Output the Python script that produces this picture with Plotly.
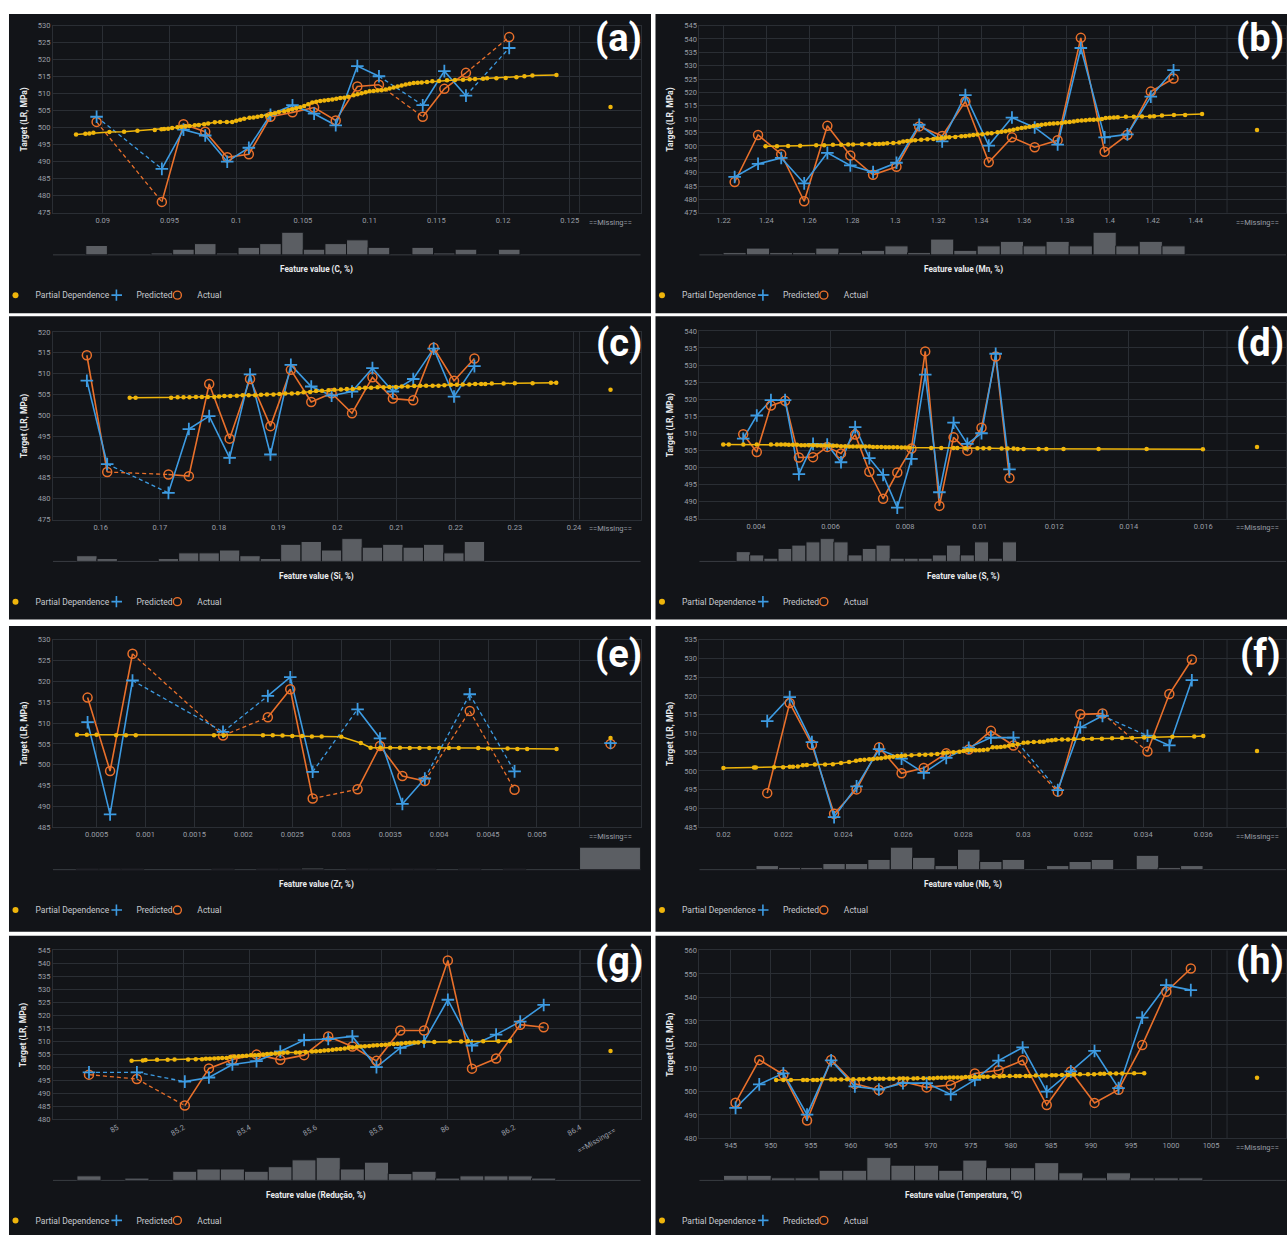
import plotly.graph_objects as go

W, H = 1287, 1239
FONT = "Roboto, 'Open Sans', sans-serif"

# ======================= DATA =======================
Y_TITLE = "Target (LR, MPa)"
MISSING_LABEL = "==Missing=="
LEGEND_NAMES = ["Partial Dependence", "Predicted", "Actual"]
PANEL_LABELS = ["(a)", "(b)", "(c)", "(d)", "(e)", "(f)", "(g)", "(h)"]

# ---- (a) C ----
A_TITLE = "Feature value (C, %)"
A_XTICKS = [0.09, 0.095, 0.1, 0.105, 0.11, 0.115, 0.12, 0.125]
A_XTICKTEXT = ["0.09", "0.095", "0.1", "0.105", "0.11", "0.115", "0.12", "0.125"]
A_YTICKS = [475, 480, 485, 490, 495, 500, 505, 510, 515, 520, 525, 530]
A_BIN_X = [0.08954, 0.09443, 0.09605, 0.09768, 0.09933, 0.10095, 0.10257, 0.10422,
           0.10584, 0.10746, 0.10908, 0.11070, 0.11398, 0.11560, 0.11722, 0.12046]
A_PRED = [503.2, 487.9, 499.4, 497.7, 490.0, 494.1, 503.8, 506.6, 504.1, 500.7, 518.1, 515.1, 506.6, 516.6, 509.4, 523.4]
A_ACT = [501.7, 478.2, 501.0, 498.8, 491.3, 492.2, 503.2, 504.5, 505.9, 502.1, 512.1, 512.6, 503.2, 511.4, 516.1, 526.6]
A_COUNT = [5, 1, 3, 6, 1, 4, 6, 12, 3, 6, 8, 4, 4, 1, 3, 3]
A_PD_X = [0.0880, 0.0887, 0.0890, 0.0893, 0.0905, 0.0916, 0.0926, 0.0939, 0.0944, 0.0946,
          0.0949, 0.0952, 0.0956, 0.0959, 0.0962, 0.0965, 0.0969, 0.0972, 0.0976, 0.0979,
          0.0984, 0.0988, 0.0993, 0.0997, 0.1000, 0.1003, 0.1006, 0.1010, 0.1013, 0.1016,
          0.1019, 0.1023, 0.1026, 0.1029, 0.1032, 0.1036, 0.1039, 0.1042, 0.1045, 0.1048,
          0.1051, 0.1054, 0.1057, 0.1060, 0.1063, 0.1066, 0.1069, 0.1072, 0.1075, 0.1078,
          0.1081, 0.1084, 0.1088, 0.1091, 0.1094, 0.1097, 0.1100, 0.1103, 0.1106, 0.1109,
          0.1112, 0.1115, 0.1118, 0.1121, 0.1124, 0.1127, 0.1130, 0.1133, 0.1136, 0.1139,
          0.1143, 0.1147, 0.1152, 0.1158, 0.1164, 0.1170, 0.1175, 0.1179, 0.1185, 0.1188,
          0.1195, 0.1202, 0.1210, 0.1216, 0.1222, 0.1240]
A_PD_Y = [498.0, 498.2, 498.3, 498.5, 498.7, 498.8, 499.1, 499.3, 499.5, 499.6,
          499.7, 499.9, 500.1, 500.3, 500.4, 500.5, 500.7, 500.8, 501.0, 501.2,
          501.6, 501.7, 501.7, 501.7, 502.0, 502.3, 502.6, 502.9, 503.0, 503.2,
          503.4, 503.6, 504.0, 504.2, 504.6, 504.8, 505.1, 505.4, 505.7, 506.0,
          506.4, 506.9, 507.4, 507.6, 507.8, 508.0, 508.1, 508.3, 508.5, 508.7,
          508.8, 509.1, 509.5, 509.8, 510.1, 510.4, 510.7, 510.8, 510.9, 511.0,
          511.2, 511.5, 511.8, 512.1, 512.4, 512.7, 512.9, 513.1, 513.2, 513.3,
          513.4, 513.6, 513.7, 513.9, 514.0, 514.1, 514.2, 514.3, 514.4, 514.5,
          514.5, 514.6, 514.8, 515.1, 515.3, 515.5]
A_PD_MISSING = 506.1

# ---- (b) Mn ----
B_TITLE = "Feature value (Mn, %)"
B_XTICKS = [1.22, 1.24, 1.26, 1.28, 1.30, 1.32, 1.34, 1.36, 1.38, 1.40, 1.42, 1.44]
B_XTICKTEXT = ["1.22", "1.24", "1.26", "1.28", "1.3", "1.32", "1.34", "1.36", "1.38", "1.4", "1.42", "1.44"]
B_YTICKS = [475, 480, 485, 490, 495, 500, 505, 510, 515, 520, 525, 530, 535, 540, 545]
B_BIN_X = [1.2252, 1.2361, 1.2469, 1.2576, 1.2684, 1.2791, 1.2897, 1.3006, 1.3112, 1.3219,
           1.3327, 1.3436, 1.3544, 1.3650, 1.3757, 1.3865, 1.3976, 1.4082, 1.4191, 1.4297]
B_PRED = [488.4, 493.3, 495.5, 486.0, 497.4, 492.7, 490.2, 493.7, 507.9, 501.7,
          519.0, 500.1, 510.6, 506.9, 500.5, 536.6, 503.2, 504.3, 518.4, 528.3]
B_ACT = [486.5, 504.1, 496.9, 479.3, 507.5, 496.4, 489.2, 492.2, 507.3, 503.7,
         516.6, 493.9, 503.2, 499.5, 502.1, 540.4, 497.8, 504.2, 520.3, 525.2]
B_COUNT = [1, 3, 1, 1, 3, 1, 2, 4, 1, 7, 2, 4, 6, 4, 6, 4, 10, 4, 6, 4]
B_PD_X = [1.2396, 1.2449, 1.2501, 1.2557, 1.2632, 1.2669, 1.2710, 1.2748, 1.2781, 1.2804,
          1.2845, 1.2879, 1.2907, 1.2925, 1.2944, 1.2963, 1.2991, 1.3019, 1.3037, 1.3056,
          1.3075, 1.3093, 1.3121, 1.3150, 1.3178, 1.3196, 1.3215, 1.3234, 1.3252, 1.3280,
          1.3308, 1.3327, 1.3346, 1.3364, 1.3383, 1.3406, 1.3430, 1.3449, 1.3477, 1.3495,
          1.3514, 1.3533, 1.3551, 1.3570, 1.3589, 1.3607, 1.3626, 1.3645, 1.3664, 1.3682,
          1.3701, 1.3720, 1.3738, 1.3757, 1.3776, 1.3794, 1.3813, 1.3832, 1.3850, 1.3869,
          1.3888, 1.3907, 1.3925, 1.3944, 1.3963, 1.3981, 1.4000, 1.4019, 1.4037, 1.4075,
          1.4112, 1.4150, 1.4187, 1.4206, 1.4243, 1.4299, 1.4351, 1.4430]
B_PD_Y = [499.9, 499.9, 500.0, 500.1, 500.2, 500.2, 500.4, 500.4, 500.5, 500.5,
          500.6, 500.6, 500.7, 500.7, 500.8, 501.0, 501.1, 501.3, 501.6, 501.8,
          502.0, 502.1, 502.3, 502.5, 502.6, 502.8, 503.0, 503.1, 503.2, 503.3,
          503.6, 503.7, 503.9, 504.1, 504.3, 504.4, 504.6, 504.7, 505.1, 505.3,
          505.5, 505.8, 506.0, 506.4, 506.7, 506.9, 507.2, 507.4, 507.7, 507.9,
          508.1, 508.3, 508.4, 508.5, 508.6, 508.8, 508.9, 509.1, 509.4, 509.5,
          509.6, 509.8, 509.8, 509.9, 510.1, 510.4, 510.5, 510.6, 510.7, 510.9,
          510.9, 511.0, 511.0, 511.1, 511.4, 511.6, 511.6, 511.9]
B_PD_MISSING = 505.9

# ---- (c) Si ----
C_TITLE = "Feature value (Si, %)"
C_XTICKS = [0.16, 0.17, 0.18, 0.19, 0.20, 0.21, 0.22, 0.23, 0.24]
C_XTICKTEXT = ["0.16", "0.17", "0.18", "0.19", "0.2", "0.21", "0.22", "0.23", "0.24"]
C_YTICKS = [475, 480, 485, 490, 495, 500, 505, 510, 515, 520]
C_BIN_X = [0.15766, 0.16110, 0.17145, 0.17490, 0.17834, 0.18179, 0.18524, 0.18869, 0.19214,
           0.19559, 0.19903, 0.20248, 0.20593, 0.20938, 0.21283, 0.21628, 0.21972, 0.22317]
C_PRED = [508.3, 488.3, 481.4, 496.7, 499.8, 489.8, 509.8, 490.6, 512.1,
          506.9, 504.7, 505.7, 511.3, 505.7, 508.7, 516.0, 504.5, 511.8]
C_ACT = [514.4, 486.4, 485.8, 485.4, 507.5, 494.4, 508.7, 497.4, 510.9,
         503.2, 505.3, 500.5, 509.1, 504.0, 503.6, 516.2, 508.3, 513.6]
C_COUNT = [2, 1, 1, 3, 3, 4, 2, 1, 6, 7, 4, 8, 5, 6, 5, 6, 3, 7]
C_PD_X = [0.1649, 0.1659, 0.1719, 0.1730, 0.1740, 0.1750, 0.1761, 0.1771, 0.1781, 0.1792,
          0.1800, 0.1809, 0.1819, 0.1830, 0.1840, 0.1850, 0.1861, 0.1871, 0.1881, 0.1892,
          0.1902, 0.1912, 0.1923, 0.1933, 0.1943, 0.1954, 0.1964, 0.1974, 0.1985, 0.1995,
          0.2006, 0.2016, 0.2026, 0.2037, 0.2047, 0.2057, 0.2068, 0.2078, 0.2088, 0.2099,
          0.2109, 0.2119, 0.2130, 0.2140, 0.2150, 0.2161, 0.2171, 0.2181, 0.2192, 0.2202,
          0.2212, 0.2223, 0.2233, 0.2243, 0.2250, 0.2261, 0.2281, 0.2300, 0.2330, 0.2361, 0.2370]
C_PD_Y = [504.2, 504.2, 504.2, 504.3, 504.3, 504.3, 504.4, 504.4, 504.4, 504.4,
          504.5, 504.6, 504.6, 504.7, 504.8, 504.8, 504.8, 504.9, 505.0, 505.0,
          505.1, 505.2, 505.2, 505.3, 505.5, 505.6, 505.8, 505.9, 506.0, 506.1,
          506.2, 506.3, 506.3, 506.5, 506.6, 506.6, 506.7, 506.7, 506.8, 506.8,
          506.9, 506.9, 507.0, 507.1, 507.1, 507.1, 507.1, 507.2, 507.3, 507.3,
          507.4, 507.4, 507.5, 507.5, 507.5, 507.6, 507.6, 507.7, 507.7, 507.8, 507.8]
C_PD_MISSING = 506.1

# ---- (d) S ----
D_TITLE = "Feature value (S, %)"
D_XTICKS = [0.004, 0.006, 0.008, 0.010, 0.012, 0.014, 0.016]
D_XTICKTEXT = ["0.004", "0.006", "0.008", "0.01", "0.012", "0.014", "0.016"]
D_YTICKS = [485, 490, 495, 500, 505, 510, 515, 520, 525, 530, 535, 540]
D_BIN_X = [0.003656, 0.00402, 0.00440, 0.00478, 0.00515, 0.00553, 0.00591, 0.00628, 0.00666, 0.00704,
           0.00741, 0.00779, 0.00817, 0.00854, 0.00892, 0.00930, 0.00967, 0.01005, 0.01043, 0.01080]
D_PRED = [508.4, 515.2, 519.7, 519.7, 498.0, 506.9, 506.7, 501.5, 511.8, 502.7,
          497.8, 488.2, 502.5, 527.2, 492.7, 513.1, 506.9, 510.0, 533.3, 499.4]
D_ACT = [509.7, 504.5, 518.1, 519.5, 502.9, 503.0, 506.0, 504.1, 509.6, 498.7,
         490.8, 498.5, 505.5, 534.0, 488.7, 508.8, 504.9, 511.6, 532.5, 496.9]
D_COUNT = [3, 2, 1, 4, 5, 6, 7, 6, 2, 4, 5, 1, 1, 1, 2, 5, 2, 6, 1, 6]
D_PD_X = [0.00312, 0.00327, 0.00366, 0.00402, 0.00440, 0.00456, 0.00467, 0.00478, 0.00488, 0.00499,
          0.00510, 0.00521, 0.00531, 0.00542, 0.00553, 0.00564, 0.00574, 0.00585, 0.00596, 0.00607,
          0.00617, 0.00628, 0.00639, 0.00650, 0.00660, 0.00671, 0.00682, 0.00693, 0.00704, 0.00714,
          0.00725, 0.00736, 0.00747, 0.00757, 0.00768, 0.00779, 0.00790, 0.00800, 0.00811, 0.00870,
          0.00897, 0.00930, 0.00940, 0.00962, 0.00994, 0.01010, 0.01026, 0.01059, 0.01075, 0.01091,
          0.01102, 0.01118, 0.01158, 0.01179, 0.01225, 0.01319, 0.01448, 0.01599]
D_PD_Y = [506.7, 506.7, 506.7, 506.7, 506.7, 506.7, 506.7, 506.7, 506.6, 506.6,
          506.6, 506.5, 506.5, 506.5, 506.5, 506.4, 506.4, 506.4, 506.4, 506.3,
          506.3, 506.2, 506.2, 506.1, 506.1, 506.1, 506.1, 506.1, 506.1, 506.0,
          506.0, 506.0, 505.9, 505.9, 505.9, 505.9, 505.8, 505.8, 505.8, 505.7,
          505.7, 505.7, 505.7, 505.6, 505.6, 505.6, 505.6, 505.5, 505.5, 505.5,
          505.4, 505.4, 505.4, 505.4, 505.4, 505.4, 505.4, 505.3]
D_PD_MISSING = 506.0

# ---- (e) Zr ----
E_TITLE = "Feature value (Zr, %)"
E_XTICKS = [0.0005, 0.001, 0.0015, 0.002, 0.0025, 0.003, 0.0035, 0.004, 0.0045, 0.005]
E_XTICKTEXT = ["0.0005", "0.001", "0.0015", "0.002", "0.0025", "0.003", "0.0035", "0.004", "0.0045", "0.005"]
E_YTICKS = [485, 490, 495, 500, 505, 510, 515, 520, 525, 530]
E_BIN_X = [0.000408, 0.000638, 0.000867, 0.001792, 0.002250, 0.002479, 0.002708,
           0.003167, 0.003396, 0.003625, 0.003854, 0.004313, 0.004771]
E_PRED = [510.2, 488.1, 520.2, 507.9, 516.5, 521.0, 498.3, 513.3, 506.3, 490.6, 496.7, 516.9, 498.4]
E_ACT = [516.1, 498.5, 526.6, 507.0, 511.4, 518.1, 491.9, 494.1, 504.5, 497.3, 496.1, 512.9, 494.0]
E_COUNT = [1, 1, 1, 1, 1, 1, 2, 1, 1, 1, 1, 1, 1]
E_PD_X = [0.0003, 0.0004, 0.0005, 0.0007, 0.0008, 0.0009, 0.0017, 0.0018, 0.0022, 0.0023,
          0.0024, 0.0025, 0.0026, 0.0027, 0.0028, 0.0030, 0.0032, 0.0033, 0.0034, 0.0035,
          0.0036, 0.0037, 0.0038, 0.0039, 0.0040, 0.0041, 0.0042, 0.0044, 0.0045, 0.0047,
          0.0048, 0.0049, 0.0052]
E_PD_Y = [507.2, 507.2, 507.2, 507.1, 507.1, 507.1, 507.1, 507.1, 507.1, 507.1,
          507.0, 506.9, 506.9, 506.8, 506.8, 506.7, 505.2, 504.1, 504.1, 504.1,
          504.1, 504.0, 504.0, 504.0, 504.0, 504.0, 504.0, 504.0, 503.9, 503.9,
          503.8, 503.8, 503.8]
E_PD_MISSING = 506.4
E_PRED_MISSING = 505.2
E_ACT_MISSING = 505.0
E_COUNT_MISSING = 28

# ---- (f) Nb ----
F_TITLE = "Feature value (Nb, %)"
F_XTICKS = [0.020, 0.022, 0.024, 0.026, 0.028, 0.030, 0.032, 0.034, 0.036]
F_XTICKTEXT = ["0.02", "0.022", "0.024", "0.026", "0.028", "0.03", "0.032", "0.034", "0.036"]
F_YTICKS = [485, 490, 495, 500, 505, 510, 515, 520, 525, 530, 535]
F_BIN_X = [0.02146, 0.02221, 0.02295, 0.02369, 0.02444, 0.02519, 0.02594, 0.02668, 0.02743,
           0.02818, 0.02892, 0.02967, 0.03115, 0.03190, 0.03264, 0.03414, 0.03487, 0.03562]
F_PRED = [513.3, 519.7, 507.7, 487.7, 495.9, 505.8, 503.3, 499.5, 503.5,
          506.2, 508.9, 508.9, 494.9, 511.6, 514.7, 509.4, 506.8, 524.2]
F_ACT = [494.1, 518.1, 507.0, 488.6, 495.1, 506.3, 499.4, 500.8, 504.7,
         505.7, 510.7, 506.8, 494.5, 515.1, 515.3, 505.2, 520.5, 529.7]
F_COUNT = [2, 1, 1, 3, 3, 5, 11, 6, 2, 10, 4, 5, 2, 4, 5, 7, 1, 2]
F_PD_X = [0.02000, 0.02102, 0.02108, 0.02169, 0.02199, 0.02221, 0.02232, 0.02248, 0.02265, 0.02278,
          0.02305, 0.02339, 0.02365, 0.02392, 0.02419, 0.02442, 0.02456, 0.02470, 0.02486, 0.02499,
          0.02513, 0.02526, 0.02540, 0.02553, 0.02566, 0.02580, 0.02593, 0.02606, 0.02627, 0.02653,
          0.02673, 0.02693, 0.02713, 0.02734, 0.02747, 0.02767, 0.02787, 0.02801, 0.02814, 0.02827,
          0.02841, 0.02854, 0.02867, 0.02881, 0.02898, 0.02912, 0.02925, 0.02938, 0.02952, 0.02965,
          0.02981, 0.03001, 0.03015, 0.03035, 0.03055, 0.03068, 0.03082, 0.03095, 0.03108, 0.03129,
          0.03149, 0.03169, 0.03200, 0.03229, 0.03262, 0.03296, 0.03329, 0.03363, 0.03403, 0.03436,
          0.03497, 0.03570, 0.03600]
F_PD_Y = [500.8, 500.9, 500.9, 501.0, 501.0, 501.1, 501.1, 501.2, 501.5, 501.6,
          501.7, 501.7, 501.8, 502.1, 502.4, 502.7, 502.9, 503.0, 503.1, 503.2,
          503.3, 503.4, 503.6, 503.7, 503.8, 504.0, 504.0, 504.1, 504.2, 504.3,
          504.3, 504.4, 504.5, 504.8, 504.9, 505.0, 505.1, 505.3, 505.5, 505.5,
          505.5, 505.5, 505.6, 505.7, 506.3, 506.3, 506.4, 506.5, 506.7, 506.9,
          507.1, 507.5, 507.6, 507.7, 507.8, 507.8, 508.1, 508.2, 508.3, 508.4,
          508.4, 508.5, 508.5, 508.6, 508.6, 508.7, 508.8, 508.8, 508.9, 509.0,
          509.1, 509.2, 509.3]
F_PD_MISSING = 505.3

# ---- (g) Reducao ----
G_TITLE = "Feature value (Redução, %)"
G_XTICKS = [85.0, 85.2, 85.4, 85.6, 85.8, 86.0, 86.2, 86.4]
G_XTICKTEXT = ["85", "85.2", "85.4", "85.6", "85.8", "86", "86.2", "86.4"]
G_YTICKS = [480, 485, 490, 495, 500, 505, 510, 515, 520, 525, 530, 535, 540, 545]
G_BIN_X = [84.914, 85.059, 85.204, 85.277, 85.348, 85.421, 85.493, 85.565, 85.638,
           85.711, 85.784, 85.856, 85.928, 86.000, 86.073, 86.146, 86.219, 86.290]
G_PRED = [498.1, 498.1, 494.5, 496.1, 501.1, 502.4, 506.1, 510.5, 510.9,
          511.9, 500.1, 507.5, 510.0, 526.0, 508.4, 512.6, 517.6, 524.0]
G_ACT = [497.2, 495.5, 485.3, 499.6, 503.0, 504.9, 502.9, 504.7, 511.9,
         508.0, 502.5, 514.2, 514.2, 541.1, 499.5, 503.4, 516.4, 515.4]
G_COUNT = [2, 1, 4, 5, 5, 4, 6, 9, 10, 5, 8, 3, 4, 1, 2, 2, 2, 1]
G_PD_X = [85.043, 85.077, 85.085, 85.120, 85.152, 85.173, 85.214, 85.237, 85.256, 85.268,
          85.280, 85.293, 85.305, 85.317, 85.330, 85.342, 85.354, 85.367, 85.379, 85.391,
          85.404, 85.416, 85.428, 85.441, 85.453, 85.465, 85.478, 85.490, 85.502, 85.515,
          85.540, 85.552, 85.570, 85.589, 85.601, 85.614, 85.626, 85.638, 85.651, 85.663,
          85.675, 85.688, 85.700, 85.712, 85.725, 85.737, 85.749, 85.762, 85.774, 85.786,
          85.799, 85.811, 85.823, 85.836, 85.848, 85.860, 85.873, 85.885, 85.898, 85.910,
          85.928, 85.959, 86.006, 86.040, 86.060, 86.107, 86.153, 86.188]
G_PD_Y = [502.5, 502.6, 502.8, 502.9, 502.9, 503.0, 503.0, 503.1, 503.1, 503.3,
          503.3, 503.4, 503.5, 503.6, 503.6, 504.0, 504.2, 504.3, 504.4, 504.5,
          504.7, 504.7, 504.8, 504.9, 505.1, 505.2, 505.3, 505.4, 505.6, 505.7,
          505.7, 505.7, 505.9, 506.1, 506.2, 506.3, 506.5, 506.6, 506.8, 507.0,
          507.1, 507.3, 507.5, 507.6, 507.9, 508.0, 508.1, 508.2, 508.4, 508.5,
          508.6, 508.7, 508.9, 509.0, 509.1, 509.2, 509.4, 509.5, 509.6, 509.6,
          509.8, 509.8, 509.9, 509.9, 510.0, 510.0, 510.0, 510.1]
G_PD_MISSING = 506.3

# ---- (h) Temperatura ----
H_TITLE = "Feature value (Temperatura, °C)"
H_XTICKS = [945, 950, 955, 960, 965, 970, 975, 980, 985, 990, 995, 1000, 1005]
H_XTICKTEXT = ["945", "950", "955", "960", "965", "970", "975", "980", "985", "990", "995", "1000", "1005"]
H_YTICKS = [480, 490, 500, 510, 520, 530, 540, 550, 560]
H_BIN_X = [945.60, 948.56, 951.57, 954.53, 957.54, 960.50, 963.50, 966.51, 969.47, 972.48,
           975.49, 978.45, 981.46, 984.47, 987.48, 990.44, 993.44, 996.40, 999.41, 1002.47]
H_PRED = [493.0, 503.0, 507.7, 490.1, 513.2, 502.1, 500.8, 503.5, 503.5, 498.7,
          504.9, 513.1, 518.7, 499.9, 508.5, 517.2, 501.4, 531.4, 545.2, 543.1]
H_ACT = [495.2, 513.4, 507.2, 487.6, 513.4, 503.2, 500.6, 504.1, 501.7, 502.7,
         507.6, 509.0, 513.2, 494.2, 508.5, 495.1, 500.7, 519.7, 542.4, 552.3]
H_COUNT = [2, 2, 1, 1, 4, 4, 9, 6, 6, 4, 8, 5, 5, 7, 3, 1, 3, 1, 1, 1]
H_PD_X = [950.67, 951.57, 952.52, 954.03, 954.53, 955.28, 955.78, 956.38, 957.54, 958.04,
          958.79, 959.54, 960.30, 961.05, 961.55, 962.30, 963.05, 963.56, 964.06, 964.81,
          965.31, 966.06, 966.56, 967.07, 967.82, 968.32, 969.07, 969.82, 970.33, 970.83,
          971.33, 971.83, 972.33, 972.83, 973.34, 973.84, 974.34, 974.84, 975.49, 976.09,
          976.59, 977.10, 977.85, 978.60, 979.10, 979.85, 980.61, 981.11, 981.86, 982.36,
          983.11, 983.87, 984.37, 985.12, 985.62, 986.37, 987.13, 987.88, 988.63, 989.63,
          990.39, 991.14, 991.64, 992.39, 993.14, 993.90, 995.40, 996.65]
H_PD_Y = [504.9, 504.9, 504.9, 504.9, 504.9, 504.9, 504.9, 505.1, 505.1, 505.1,
          505.1, 505.2, 505.2, 505.2, 505.2, 505.4, 505.4, 505.4, 505.4, 505.4,
          505.4, 505.5, 505.5, 505.5, 505.5, 505.6, 505.6, 505.6, 505.6, 505.8,
          505.8, 505.8, 505.9, 505.9, 505.9, 505.9, 506.1, 506.1, 506.1, 506.2,
          506.2, 506.2, 506.3, 506.3, 506.5, 506.5, 506.5, 506.5, 506.6, 506.6,
          506.8, 506.8, 506.8, 506.9, 506.9, 507.0, 507.0, 507.2, 507.3, 507.3,
          507.3, 507.5, 507.5, 507.6, 507.6, 507.6, 507.7, 507.7]
H_PD_MISSING = 505.8

PANELS = [
    dict(title=A_TITLE, xt=A_XTICKS, xtt=A_XTICKTEXT, yt=A_YTICKS, bx=A_BIN_X, pred=A_PRED, act=A_ACT,
         cnt=A_COUNT, pdx=A_PD_X, pdy=A_PD_Y, pdm=A_PD_MISSING, predm=None, actm=None, cntm=0),
    dict(title=B_TITLE, xt=B_XTICKS, xtt=B_XTICKTEXT, yt=B_YTICKS, bx=B_BIN_X, pred=B_PRED, act=B_ACT,
         cnt=B_COUNT, pdx=B_PD_X, pdy=B_PD_Y, pdm=B_PD_MISSING, predm=None, actm=None, cntm=0),
    dict(title=C_TITLE, xt=C_XTICKS, xtt=C_XTICKTEXT, yt=C_YTICKS, bx=C_BIN_X, pred=C_PRED, act=C_ACT,
         cnt=C_COUNT, pdx=C_PD_X, pdy=C_PD_Y, pdm=C_PD_MISSING, predm=None, actm=None, cntm=0),
    dict(title=D_TITLE, xt=D_XTICKS, xtt=D_XTICKTEXT, yt=D_YTICKS, bx=D_BIN_X, pred=D_PRED, act=D_ACT,
         cnt=D_COUNT, pdx=D_PD_X, pdy=D_PD_Y, pdm=D_PD_MISSING, predm=None, actm=None, cntm=0),
    dict(title=E_TITLE, xt=E_XTICKS, xtt=E_XTICKTEXT, yt=E_YTICKS, bx=E_BIN_X, pred=E_PRED, act=E_ACT,
         cnt=E_COUNT, pdx=E_PD_X, pdy=E_PD_Y, pdm=E_PD_MISSING, predm=E_PRED_MISSING,
         actm=E_ACT_MISSING, cntm=E_COUNT_MISSING),
    dict(title=F_TITLE, xt=F_XTICKS, xtt=F_XTICKTEXT, yt=F_YTICKS, bx=F_BIN_X, pred=F_PRED, act=F_ACT,
         cnt=F_COUNT, pdx=F_PD_X, pdy=F_PD_Y, pdm=F_PD_MISSING, predm=None, actm=None, cntm=0),
    dict(title=G_TITLE, xt=G_XTICKS, xtt=G_XTICKTEXT, yt=G_YTICKS, bx=G_BIN_X, pred=G_PRED, act=G_ACT,
         cnt=G_COUNT, pdx=G_PD_X, pdy=G_PD_Y, pdm=G_PD_MISSING, predm=None, actm=None, cntm=0),
    dict(title=H_TITLE, xt=H_XTICKS, xtt=H_XTICKTEXT, yt=H_YTICKS, bx=H_BIN_X, pred=H_PRED, act=H_ACT,
         cnt=H_COUNT, pdx=H_PD_X, pdy=H_PD_Y, pdm=H_PD_MISSING, predm=None, actm=None, cntm=0),
]

# ======================= STYLE / GEOMETRY (pixels) =======================
BG = "#121418"
GRID = "#2a2e34"
TICK = "#9a9fa7"
TITLE_C = "#e8eaed"
LEG_C = "#c6c9ce"
PD_C = "#efb50b"
PRED_C = "#3d9be2"
ACT_C = "#e9702b"
HIST_C = "#5b5e63"
BASE_C = "#3a3d43"

COLS = [
    dict(px=(53, 641), sep=580, miss=611, bg=(9, 651.5), ref=10, ytx=24.3, lbx=619, xtx=316.5, rmx=597),
    dict(px=(700, 1287), sep=1228, miss=1258, bg=(656, 1290), ref=657, ytx=671, lbx=1261, xtx=964, rmx=1244),
]
ROWS = [
    dict(py=[(21.7, 210.3), (21.7, 210.3)], hy=(230, 252.7), xty=267.7, lgy=293.3, lby=34.5, bg=(10, 311.5)),
    dict(py=[(330.3, 519.3), (329.3, 518.3)], hy=(538.5, 561.5), xty=576.5, lgy=602, lby=341, bg=(314.5, 620)),
    dict(py=[(640.3, 829.3), (640.3, 829.3)], hy=(849.3, 872), xty=887, lgy=912.7, lby=655, bg=(626.5, 934.5)),
    dict(py=[(953.3, 1123.5), (953.3, 1142.7)], hy=(1162, 1185), xty=1200.3, lgy=1225.3, lby=964, bg=(938.5, 1240)),
]
XRANGES = [(0.08627, 0.1303), (1.2088, 1.4821), (0.15193, 0.25124), (0.002482, 0.01822),
           (0.0000542, 0.006058), (0.0192, 0.03876), (84.805, 86.583), (941.09, 1014.36)]
TICKANGLES = [0, 0, 0, 0, 0, 0, -30, 0]
LEG_TXT_REL = [21, 119, 180]


def axn(kind, n):
    return kind if n == 1 else f"{kind}{n}"


def px2x(p):
    return p / W


def py2y(p):
    return 1 - p / H


fig = go.Figure()
layout = {}
shapes, annotations = [], []
leg_idx = 0
tickfont = dict(size=7.5, color=TICK, family=FONT)

for i, p in enumerate(PANELS):
    col = COLS[i % 2]
    row = ROWS[i // 2]
    px0, px1 = col["px"]
    py0, py1 = row["py"][i % 2]
    hy0, hy1 = row["hy"]
    xr = XRANGES[i]

    def to_val(pix, px0=px0, px1=px1, xr=xr):
        return xr[0] + (pix - px0) / (px1 - px0) * (xr[1] - xr[0])

    sep = to_val(col["sep"])
    miss = to_val(col["miss"])

    xm, xh = 2 * i + 1, 2 * i + 2
    ym, yh = 2 * i + 1, 2 * i + 2
    XM, XH = axn("x", xm), axn("x", xh)
    YM, YH = axn("y", ym), axn("y", yh)

    layout[axn("xaxis", xm)] = dict(
        domain=[px2x(px0), px2x(px1)], anchor=YM, range=list(xr), tickvals=p["xt"], ticktext=p["xtt"],
        showgrid=True, gridcolor=GRID, gridwidth=1, zeroline=False, showline=True, mirror=True,
        linecolor=GRID, linewidth=1, ticks="", tickfont=tickfont, tickangle=TICKANGLES[i], fixedrange=True)
    layout[axn("yaxis", ym)] = dict(
        domain=[py2y(py1), py2y(py0)], anchor=XM, range=[min(p["yt"]), max(p["yt"])], tickvals=p["yt"],
        showgrid=True, gridcolor=GRID, gridwidth=1, zeroline=False, showline=True, mirror=True,
        linecolor=GRID, linewidth=1, ticks="", tickfont=tickfont, fixedrange=True)
    maxc = max(max(p["cnt"]), p["cntm"])
    layout[axn("xaxis", xh)] = dict(domain=[px2x(px0), px2x(px1)], anchor=YH, range=list(xr),
                                     visible=False, fixedrange=True)
    layout[axn("yaxis", yh)] = dict(domain=[py2y(hy1), py2y(hy0)], anchor=XH, range=[0, maxc],
                                     visible=False, fixedrange=True)

    diffs = [b - a for a, b in zip(p["bx"][:-1], p["bx"][1:])]
    dmin = min(diffs)
    small = sorted(d for d in diffs if d < 1.5 * dmin)
    bw = small[len(small) // 2]

    # ---- histogram ----
    hx = list(p["bx"])
    hyv = list(p["cnt"])
    wid = [bw] * len(hx)
    if p["cntm"]:
        hx.append((sep + xr[1]) / 2)
        hyv.append(p["cntm"])
        wid.append(xr[1] - sep)
    fig.add_trace(go.Bar(x=hx, y=hyv, width=wid, xaxis=XH, yaxis=YH, showlegend=False, hoverinfo="skip",
                         marker=dict(color=HIST_C, line=dict(color=BG, width=1))))

    # ---- predicted / actual lines ----
    def add_lines(ys, color):
        xs = p["bx"]
        run = [0]
        for k in range(1, len(xs)):
            if xs[k] - xs[k - 1] > 1.5 * bw:
                if len(run) > 1:
                    fig.add_trace(go.Scatter(x=[xs[j] for j in run], y=[ys[j] for j in run], mode="lines",
                                             line=dict(color=color, width=1.6), xaxis=XM, yaxis=YM,
                                             showlegend=False, hoverinfo="skip"))
                fig.add_trace(go.Scatter(x=[xs[k - 1], xs[k]], y=[ys[k - 1], ys[k]], mode="lines",
                                         line=dict(color=color, width=1.3, dash="4px,3px"), xaxis=XM, yaxis=YM,
                                         showlegend=False, hoverinfo="skip"))
                run = [k]
            else:
                run.append(k)
        if len(run) > 1:
            fig.add_trace(go.Scatter(x=[xs[j] for j in run], y=[ys[j] for j in run], mode="lines",
                                     line=dict(color=color, width=1.6), xaxis=XM, yaxis=YM,
                                     showlegend=False, hoverinfo="skip"))

    add_lines(p["act"], ACT_C)
    add_lines(p["pred"], PRED_C)

    act_x, act_y = list(p["bx"]), list(p["act"])
    pred_x, pred_y = list(p["bx"]), list(p["pred"])
    if p["actm"] is not None:
        act_x.append(miss)
        act_y.append(p["actm"])
    if p["predm"] is not None:
        pred_x.append(miss)
        pred_y.append(p["predm"])
    fig.add_trace(go.Scatter(x=act_x, y=act_y, mode="markers", xaxis=XM, yaxis=YM, showlegend=False,
                             hoverinfo="skip",
                             marker=dict(symbol="circle-open", size=9, color=ACT_C,
                                         line=dict(color=ACT_C, width=1.5))))
    fig.add_trace(go.Scatter(x=pred_x, y=pred_y, mode="markers", xaxis=XM, yaxis=YM, showlegend=False,
                             hoverinfo="skip",
                             marker=dict(symbol="cross-thin", size=9, color=PRED_C,
                                         line=dict(color=PRED_C, width=1.8))))

    # ---- partial dependence ----
    fig.add_trace(go.Scatter(x=p["pdx"], y=p["pdy"], mode="lines+markers", xaxis=XM, yaxis=YM,
                             showlegend=False, hoverinfo="skip",
                             line=dict(color=PD_C, width=1.5), marker=dict(color=PD_C, size=4.5)))
    fig.add_trace(go.Scatter(x=[miss], y=[p["pdm"]], mode="markers", xaxis=XM, yaxis=YM,
                             showlegend=False, hoverinfo="skip", marker=dict(color=PD_C, size=4.5)))

    # ---- legends ----
    leg_markers = [
        dict(symbol="circle", size=6, color=PD_C),
        dict(symbol="cross-thin", size=8, color=PRED_C, line=dict(color=PRED_C, width=1.6)),
        dict(symbol="circle-open", size=8, color=ACT_C, line=dict(color=ACT_C, width=1.4)),
    ]
    leg_shift = [-1.5, 1.5, 1.5]
    for k in range(3):
        leg_idx += 1
        lname = "legend" if leg_idx == 1 else f"legend{leg_idx}"
        fig.add_trace(go.Scatter(x=[None], y=[None], mode="markers", name=LEGEND_NAMES[k],
                                 marker=leg_markers[k], xaxis=XM, yaxis=YM, legend=lname, showlegend=True))
        txt_abs = col["ref"] + LEG_TXT_REL[k]
        layout[lname] = dict(x=px2x(txt_abs - 19 + leg_shift[k]), y=py2y(row["lgy"]), xanchor="left",
                             yanchor="middle", orientation="h", bgcolor="rgba(0,0,0,0)", borderwidth=0,
                             itemwidth=30, indentation=-15,
                             font=dict(size=8.5, color=LEG_C, family=FONT),
                             itemclick=False, itemdoubleclick=False)

    # ---- shapes ----
    bx0, bx1 = col["bg"]
    by0, by1 = row["bg"]
    shapes.append(dict(type="rect", xref="paper", yref="paper", x0=px2x(bx0), x1=px2x(bx1),
                       y0=py2y(by1), y1=py2y(by0), fillcolor=BG, line=dict(width=0), layer="below"))
    shapes.append(dict(type="line", xref=XM, yref=f"{YM} domain", x0=sep, x1=sep, y0=0, y1=1,
                       line=dict(color=GRID, width=1), layer="below"))
    shapes.append(dict(type="line", xref="paper", yref="paper", x0=px2x(px0), x1=px2x(px1),
                       y0=py2y(hy1), y1=py2y(hy1), line=dict(color=BASE_C, width=1), layer="below"))

    # ---- annotations ----
    if TICKANGLES[i] == 0:
        annotations.append(dict(text=MISSING_LABEL, x=miss, xref=XM, y=py2y(py1 + 9.5), yref="paper",
                                showarrow=False, xanchor="center", yanchor="middle", font=tickfont))
    else:
        annotations.append(dict(text=MISSING_LABEL, x=px2x(col["rmx"]), xref="paper", y=py2y(py1 + 21),
                                yref="paper", showarrow=False, xanchor="center", yanchor="middle",
                                textangle=TICKANGLES[i], font=tickfont))
    annotations.append(dict(text=Y_TITLE, x=px2x(col["ytx"]), y=py2y((py0 + py1) / 2), xref="paper",
                            yref="paper", textangle=-90, showarrow=False, xanchor="center", yanchor="middle",
                            font=dict(size=8.5, color=TITLE_C, family=FONT, weight="bold")))
    annotations.append(dict(text=p["title"], x=px2x(col["xtx"]), y=py2y(row["xty"]), xref="paper",
                            yref="paper", showarrow=False, xanchor="center", yanchor="middle",
                            font=dict(size=8.2, color=TITLE_C, family=FONT, weight="bold")))
    annotations.append(dict(text=PANEL_LABELS[i], x=px2x(col["lbx"]), y=py2y(row["lby"]), xref="paper",
                            yref="paper", showarrow=False, xanchor="center", yanchor="middle",
                            font=dict(size=38, color="#ffffff", family=FONT, weight="bold")))

fig.update_layout(
    width=W, height=H, margin=dict(l=0, r=0, t=0, b=0), autosize=False,
    paper_bgcolor="#ffffff", plot_bgcolor="rgba(0,0,0,0)",
    font=dict(family=FONT, color=TICK), barmode="overlay", hovermode=False,
    shapes=shapes, annotations=annotations, showlegend=True,
    **layout,
)

fig.write_html("out.html", config={"displayModeBar": False},
               post_script="document.body.style.margin='0';document.body.style.overflow='hidden';")
